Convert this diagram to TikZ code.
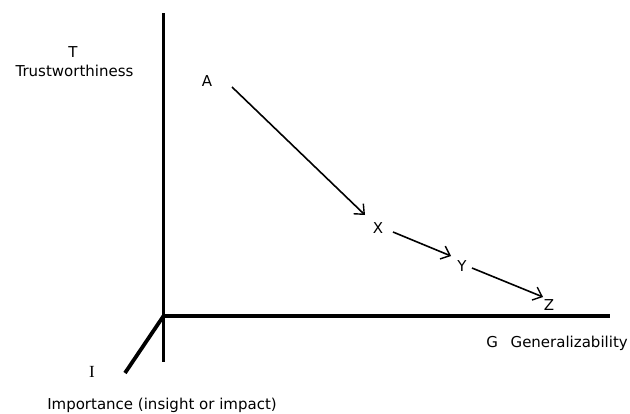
\documentclass[tikz,border=0pt]{standalone}
\usepackage{fontspec}
\setmainfont{DejaVu Sans}
\newfontfamily\serifI{Liberation Serif}
\usetikzlibrary{arrows.meta}
\begin{document}
\begin{tikzpicture}[x=1pt,y=-1pt,
  axis/.style={line width=3.8pt},
  lbl/.style={inner sep=0pt,font=\fontsize{15}{17}\selectfont},
  flow/.style={line width=1.6pt,-{Straight Barb[length=8pt,width=14pt,line width=1.4pt]}},
  pt/.style={inner sep=0pt,font=\fontsize{15}{17}\selectfont}]
\useasboundingbox (0,0) rectangle (630,413);
\coordinate (O) at (163.5,316);
\coordinate (Vtop) at (163.5,13);
\coordinate (Vbot) at (163.5,362);
\coordinate (Hend) at (610,316);
\coordinate (Dend) at (125,373);
\draw[axis] (Vtop) -- (Vbot);
\draw[axis] (O) -- (Hend);
\draw[axis] (O) -- (Dend);
\node[lbl,anchor=base] (T) at (73,57) {T};
\node[lbl,anchor=base] (Tw) at (74.5,76) {Trustworthiness};
\node[lbl,anchor=base] (I) at (92,377) {\fontsize{17}{19}\serifI I};
\node[lbl,anchor=base] (Imp) at (162,409) {Importance (insight or impact)};
\node[lbl,anchor=base] (G) at (557,347) {G\hspace{0.85em}Generalizability};
\node[pt,anchor=base] (A) at (207,86) {A};
\node[pt,anchor=base] (X) at (378,233) {X};
\node[pt,anchor=base] (Y) at (462,271) {Y};
\node[pt,anchor=base] (Z) at (549,310) {Z};
\coordinate (a1) at (232,87);
\coordinate (a2) at (365,215);
\coordinate (x1) at (393,232);
\coordinate (x2) at (451,256);
\coordinate (y1) at (472,268);
\coordinate (y2) at (543,297);
\draw[flow] (a1) -- (a2);
\draw[flow] (x1) -- (x2);
\draw[flow] (y1) -- (y2);
\end{tikzpicture}
\end{document}
